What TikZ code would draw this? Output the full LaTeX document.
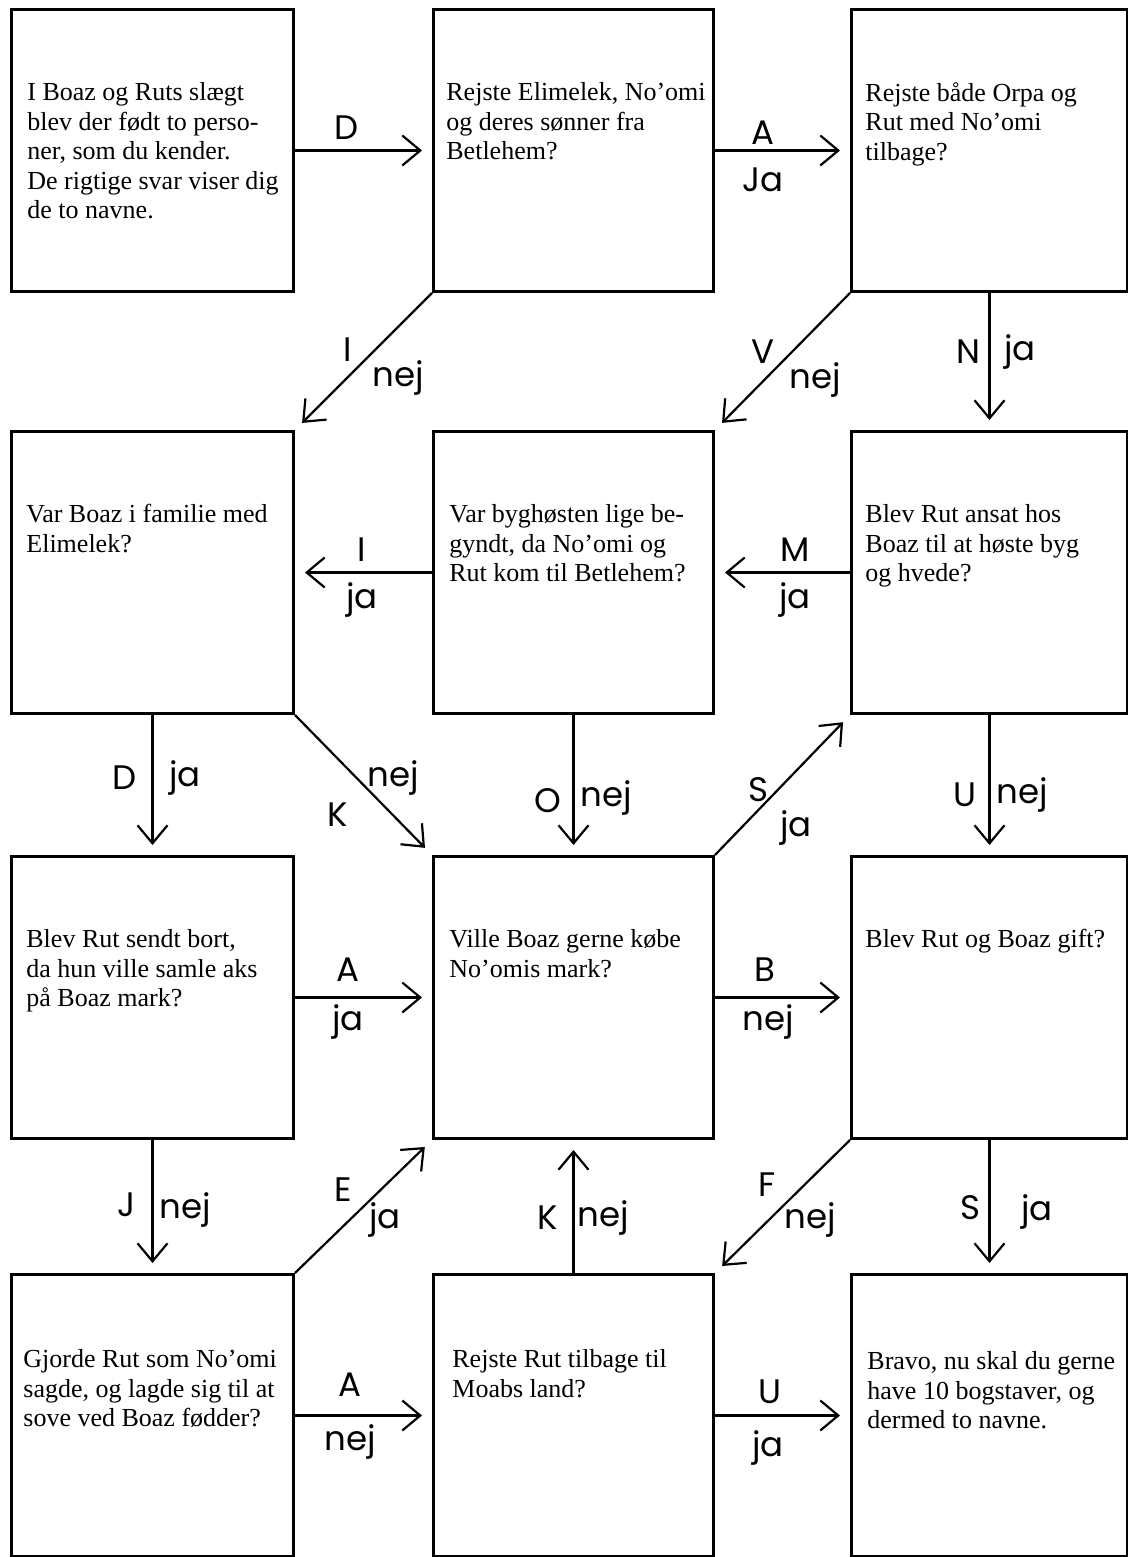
\documentclass[tikz,border=0pt]{standalone}
\usepackage{fontspec}
\setmainfont{Liberation Serif}
\newfontfamily\handfont{Poppins}
\usepackage{tikz}
\usetikzlibrary{arrows.meta}

\tikzset{
  box/.style={draw, line width=1.5pt, inner sep=0pt, anchor=north west,
    minimum width=#1, minimum height=141pt},
  box/.default=140pt,
  boxtext/.style={anchor=north west, inner sep=0pt, align=left,
    font=\fontsize{13}{14.8}\selectfont},
  flow/.style={line width=1.1pt, shorten >=5pt,
    -{Straight Barb[length=9pt, width=15pt, line width=1.1pt]}},
  lab/.style={inner sep=0pt, font=\handfont\fontsize{17}{20}\selectfont}
}

\begin{document}
\begin{tikzpicture}[x=0.5pt, y=-0.5pt]

\useasboundingbox (0,0) rectangle (1128,1557);

% boxes, row by row
\node[box=141pt] (b11) at (10,8) {};
\node[box] (b12) at (432,8) {};
\node[box=138pt] (b13) at (850,8) {};
\node[box=141pt] (b21) at (10,430) {};
\node[box] (b22) at (432,430) {};
\node[box=138pt] (b23) at (850,430) {};
\node[box=141pt] (b31) at (10,855) {};
\node[box] (b32) at (432,855) {};
\node[box=138pt] (b33) at (850,855) {};
\node[box=141pt] (b41) at (10,1273) {};
\node[box] (b42) at (432,1273) {};
\node[box=138pt] (b43) at (850,1273) {};

% questions
\node[boxtext] (t11) at (27,82) {I Boaz og Ruts slægt\\blev der født to perso-\\ner, som du kender.\\De rigtige svar viser dig\\de to navne.};
\node[boxtext] (t12) at (446,82) {Rejste Elimelek, No’omi\\og deres sønner fra\\Betlehem?};
\node[boxtext] (t13) at (865,82) {Rejste både Orpa og\\Rut med No’omi\\tilbage?};
\node[boxtext] (t21) at (26,504) {Var Boaz i familie med\\Elimelek?};
\node[boxtext] (t22) at (449,504) {Var byghøsten lige be-\\gyndt, da No’omi og\\Rut kom til Betlehem?};
\node[boxtext] (t23) at (865,504) {Blev Rut ansat hos\\Boaz til at høste byg\\og hvede?};
\node[boxtext] (t31) at (26,929) {Blev Rut sendt bort,\\da hun ville samle aks\\på Boaz mark?};
\node[boxtext] (t32) at (449,929) {Ville Boaz gerne købe\\No’omis mark?};
\node[boxtext] (t33) at (865,929) {Blev Rut og Boaz gift?};
\node[boxtext] (t41) at (23,1349) {Gjorde Rut som No’omi\\sagde, og lagde sig til at\\sove ved Boaz fødder?};
\node[boxtext] (t42) at (452,1349) {Rejste Rut tilbage til\\Moabs land?};
\node[boxtext] (t43) at (867,1351) {Bravo, nu skal du gerne\\have 10 bogstaver, og\\dermed to navne.};

% arrows
\draw[flow] (b11.east) -- (b12.west);
\draw[flow] (b12.east) -- (b13.west);
\draw[flow] (b12.south west) -- (b21.north east);
\draw[flow] (b13.south west) -- (b22.north east);
\draw[flow] (b13.south) -- (b23.north);
\draw[flow] (b23.west) -- (b22.east);
\draw[flow] (b22.west) -- (b21.east);
\draw[flow] (b21.south) -- (b31.north);
\draw[flow] (b21.south east) -- (b32.north west);
\draw[flow] (b22.south) -- (b32.north);
\draw[flow] (b32.north east) -- (b23.south west);
\draw[flow] (b23.south) -- (b33.north);
\draw[flow] (b31.east) -- (b32.west);
\draw[flow] (b32.east) -- (b33.west);
\draw[flow] (b31.south) -- (b41.north);
\draw[flow] (b41.north east) -- (b32.south west);
\draw[flow] (b42.north) -- (b32.south);
\draw[flow] (b33.south west) -- (b42.north east);
\draw[flow] (b33.south) -- (b43.north);
\draw[flow] (b41.east) -- (b42.west);
\draw[flow] (b42.east) -- (b43.west);

% letters and answers
\node[lab] (l1a) at (347,128) {D};
\node[lab] (l2a) at (763,133) {A};
\node[lab] (l2b) at (763,180) {Ja};
\node[lab] (l3a) at (348,350) {I};
\node[lab] (l3b) at (398,378) {nej};
\node[lab] (l4a) at (763,352) {V};
\node[lab] (l4b) at (815,380) {nej};
\node[lab] (l5a) at (968,352) {N};
\node[lab] (l5b) at (1020,352) {ja};
\node[lab] (l6a) at (795,550) {M};
\node[lab] (l6b) at (795,600) {ja};
\node[lab] (l7a) at (362,550) {I};
\node[lab] (l7b) at (362,600) {ja};
\node[lab] (l8a) at (125,778) {D};
\node[lab] (l8b) at (185,778) {ja};
\node[lab] (l9a) at (338,815) {K};
\node[lab] (l9b) at (393,778) {nej};
\node[lab] (l10a) at (548,801) {O};
\node[lab] (l10b) at (606,798) {nej};
\node[lab] (l11a) at (758,790) {S};
\node[lab] (l11b) at (796,828) {ja};
\node[lab] (l12a) at (965,795) {U};
\node[lab] (l12b) at (1022,795) {nej};
\node[lab] (l13a) at (348,970) {A};
\node[lab] (l13b) at (348,1022) {ja};
\node[lab] (l14a) at (765,970) {B};
\node[lab] (l14b) at (768,1022) {nej};
\node[lab] (l15a) at (127,1205) {J};
\node[lab] (l15b) at (185,1210) {nej};
\node[lab] (l16a) at (343,1190) {E};
\node[lab] (l16b) at (385,1220) {ja};
\node[lab] (l17a) at (548,1218) {K};
\node[lab] (l17b) at (603,1218) {nej};
\node[lab] (l18a) at (767,1185) {F};
\node[lab] (l18b) at (810,1220) {nej};
\node[lab] (l19a) at (970,1208) {S};
\node[lab] (l19b) at (1037,1212) {ja};
\node[lab] (l20a) at (350,1385) {A};
\node[lab] (l20b) at (350,1442) {nej};
\node[lab] (l21a) at (770,1392) {U};
\node[lab] (l21b) at (768,1448) {ja};

\end{tikzpicture}
\end{document}
